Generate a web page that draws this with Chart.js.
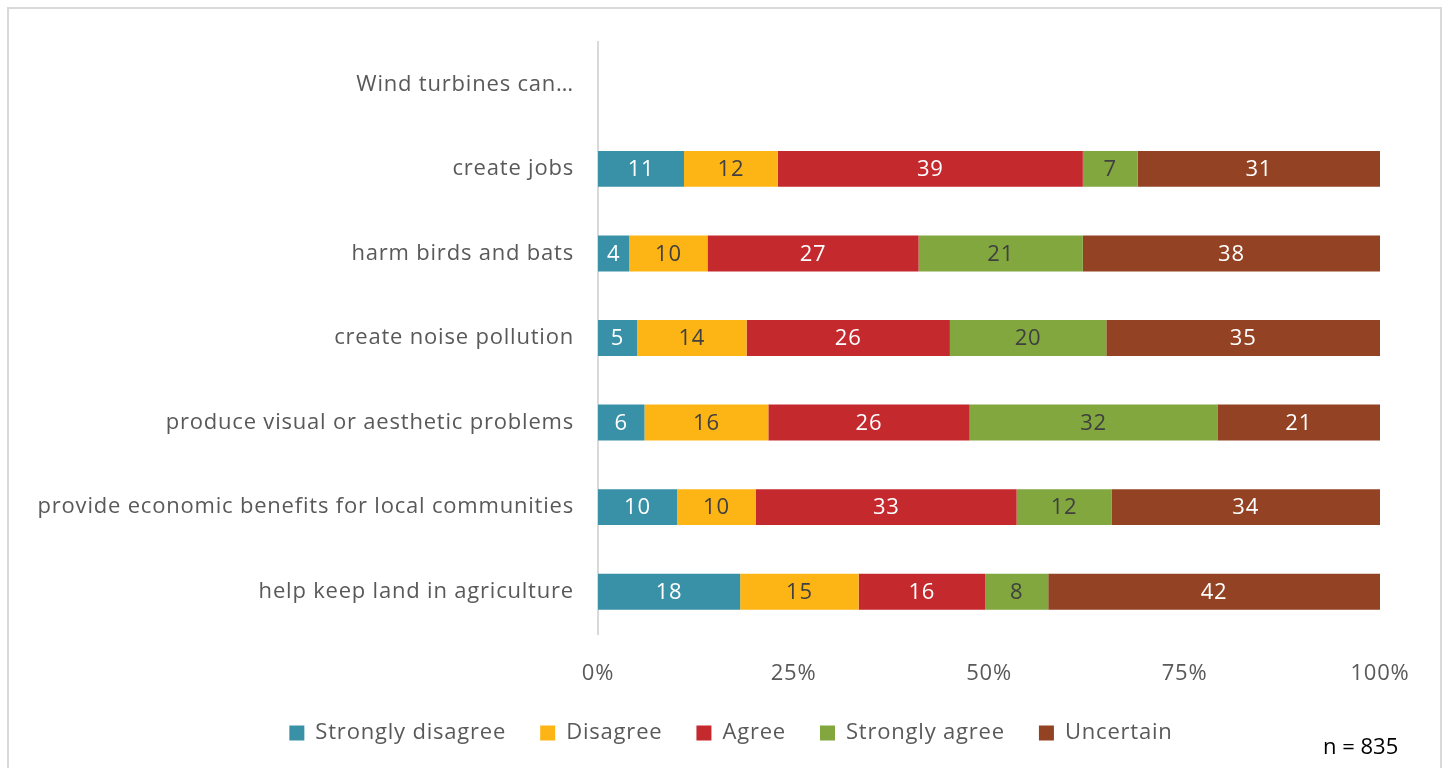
<!DOCTYPE html>
<html>
<head>
<meta charset="utf-8">
<script src="https://cdn.jsdelivr.net/npm/chart.js@4/dist/chart.umd.min.js"></script>
<style>
    html, body { margin: 0; padding: 0; background: #fff; overflow: hidden; }
    #frame { position: absolute; left: 7px; top: 7px; width: 1435px; height: 780px; border: 2px solid #d9d9d9; box-sizing: border-box; }
    #wrap { position: absolute; left: 0; top: 0; width: 1448px; height: 768px; }
    #note { position: absolute; left: 1323px; top: 730px; font: 22px "Open Sans", sans-serif; color: #000; }
</style>
</head>
<body>
<div id="frame"></div>
<div id="wrap"><canvas id="graph"></canvas></div>
<div id="note">n = 835</div>
<script>
const categories = ['Wind turbines can\u2026', 'create jobs', 'harm birds and bats', 'create noise pollution',
    'produce visual or aesthetic problems', 'provide economic benefits for local communities', 'help keep land in agriculture'];
const seriesNames = ['Strongly disagree', 'Disagree', 'Agree', 'Strongly agree', 'Uncertain'];
const stronglyDisagree = [null, 11, 4, 5, 6, 10, 18];
const disagree = [null, 12, 10, 14, 16, 10, 15];
const agree = [null, 39, 27, 26, 26, 33, 16];
const stronglyAgree = [null, 7, 21, 20, 32, 12, 8];
const uncertain = [null, 31, 38, 35, 21, 34, 42];
const xTicks = [0, 25, 50, 75, 100];

const colors = ['#3891a7', '#fdb515', '#c4292e', '#81a73e', '#934223'];
const labelColors = ['#ffffff', '#404040', '#ffffff', '#404040', '#ffffff'];
const font = '"Open Sans", sans-serif';

const raw = [stronglyDisagree, disagree, agree, stronglyAgree, uncertain];
// 100% stacked: each row scaled to its own total
const totals = categories.map((c, i) => raw.reduce((s, arr) => s + (arr[i] || 0), 0));

const datasets = raw.map((arr, k) => ({
    label: seriesNames[k],
    data: arr.map((v, i) => v == null ? null : v / totals[i] * 100),
    raw: arr,
    backgroundColor: colors[k],
    borderWidth: 0,
    barPercentage: 0.85,
    categoryPercentage: 0.5
}));

// the original text is a bit spaced out, widen it a little
const spacing = {
    id: 'spacing',
    beforeLayout(chart) { chart.ctx.letterSpacing = '0.8px'; },
    beforeDraw(chart) { chart.ctx.letterSpacing = '0.8px'; }
};

// legend sits a bit right of the canvas centre in the original
const legendShift = {
    id: 'legendShift',
    afterLayout(chart) {
        chart.legend.left += 41;
        chart.legend.right += 41;
    }
};

// value labels drawn in the middle of each segment
const barLabels = {
    id: 'barLabels',
    afterDatasetsDraw(chart) {
        const ctx = chart.ctx;
        ctx.save();
        ctx.font = '22px ' + font;
        ctx.textAlign = 'center';
        ctx.textBaseline = 'middle';
        chart.data.datasets.forEach((ds, k) => {
            chart.getDatasetMeta(k).data.forEach((bar, i) => {
                if (ds.raw[i] == null) return;
                const c = bar.getCenterPoint();
                ctx.fillStyle = labelColors[k];
                ctx.fillText(String(ds.raw[i]), c.x, c.y + 1);
            });
        });
        ctx.restore();
    }
};

let ctx = document.getElementById('graph').getContext('2d');
let graph = new Chart(ctx, {
    type: 'bar',
    data: { labels: categories, datasets: datasets },
    options: {
        indexAxis: 'y',
        responsive: true,
        maintainAspectRatio: false,
        animation: false,
        layout: { padding: { top: 42, right: 68, left: 0, bottom: 14 } },
        scales: {
            x: {
                stacked: true,
                min: 0,
                max: 100,
                afterBuildTicks: (scale) => { scale.ticks = xTicks.map(v => ({ value: v })); },
                afterFit: (scale) => { scale.height = 54; },
                grid: { display: false, drawTicks: false },
                border: { display: false },
                ticks: { padding: 27, color: '#595959', font: { family: font, size: 22 }, callback: v => v + '%' }
            },
            y: {
                stacked: true,
                afterFit: (scale) => { scale.width = 598; },
                grid: { display: false, drawTicks: false },
                border: { display: true, color: '#d9d9d9', width: 2 },
                ticks: { padding: 24, color: '#595959', font: { family: font, size: 22 } }
            }
        },
        plugins: {
            legend: {
                position: 'bottom',
                labels: {
                    color: '#595959',
                    font: { family: font, size: 22 },
                    boxWidth: 15,
                    boxHeight: 15,
                    padding: 34
                }
            },
            tooltip: { enabled: false }
        }
    },
    plugins: [spacing, legendShift, barLabels]
});
</script>
</body>
</html>
